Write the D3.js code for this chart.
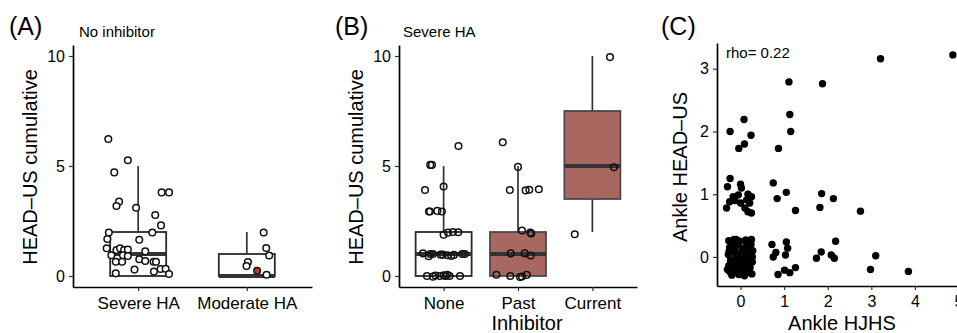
<!DOCTYPE html>
<html>
<head>
<meta charset="utf-8">
<script src="https://cdn.jsdelivr.net/npm/d3@7"></script>
<style>
  body { margin: 0; background: #fff; }
  text { font-family: "Liberation Sans", Arial, sans-serif; fill: #000; }
</style>
</head>
<body>
<svg id="fig" width="957" height="333"></svg>
<script>
// ---------- data ----------
// box stats: [lower whisker, q1, median, q3, upper whisker]
const catsA = ['Severe HA', 'Moderate HA'];
const boxA = [[0, 0, 1, 2, 5], [0, 0, 0, 1, 2]];

const aSevereVals = [6.23, 5.26, 4.71, 3.8, 3.8, 3.38, 3.18, 3.1, 2.77, 2.3, 1.98, 1.98, 1.68, 1.65, 1.26,
  1.18, 1.26, 1.18, 1.2, 1.12, 0.94, 0.94, 0.91, 0.65, 0.65, 0.76, 0.68, 0.65, 0.65, 0.29, 0.32, 0.33, 0.2, 0.12, 0.09];
const aSevereJit = [-0.275, -0.095, -0.22, 0.216, 0.284, -0.176, -0.2, -0.019, 0.157, 0.21, -0.27, 0.13, -0.284, 0.01, -0.29,
  -0.2, -0.167, -0.13, -0.095, 0.065, -0.247, -0.14, -0.095, -0.206, -0.148, 0.01, 0.065, 0.142, 0.164, -0.034, 0.206, 0.253, 0.145, -0.206, 0.284];
const aModVals = [1.98, 1.27, 0.93, 0.63, 0.45, 0.06];
const aModJit = [0.155, 0.179, 0.206, 0.01, -0.003, 0.182];
const aModRedVal = [0.24];
const aModRedJit = [0.095];

const catsB = ['None', 'Past', 'Current'];
const boxB = [[0, 0, 1, 2, 5], [0, 0, 1, 2, 5], [2, 3.5, 5, 7.5, 10]];
const bNoneVals = [5.91, 5.05, 5.05, 3.91, 4.07, 2.93, 2.93, 2.96, 2.93, 1.88, 1.97, 2.0, 1.99, 1.03, 1.0, 1.0, 0.97,
  0.97, 0.94, 0.91, 0.96, 1.0, 1.0, 0.9, 0, -0.03, 0, 0, 0.06, 0, 0, 0.02, 0.03];
const bNoneJit = [0.2, -0.18, -0.157, -0.25, 0, -0.197, -0.183, -0.085, -0.023, 0, 0.058, 0.125, 0.197, -0.278, -0.18, -0.143, -0.04,
  -0.01, 0.054, 0.103, 0.139, 0.25, 0.286, -0.2, -0.224, -0.143, -0.05, 0.027, 0.05, 0.08, 0.22, -0.11, 0.0];
const bPastVals = [6.08, 4.96, 3.91, 3.89, 3.92, 3.94, 2.07, 1.98, 1.93, 1.03, 1.03, 0.93, 0.06, 0, -0.05, -0.02, 0.05];
const bPastJit = [-0.205, 0, -0.11, 0.103, 0.152, 0.28, 0.054, 0.165, 0.179, -0.098, 0.09, 0.17, -0.29, -0.103, 0.027, 0.054, 0.117];
const bCurVals = [9.95, 4.94, 1.9];
const bCurJit = [0.237, 0.29, -0.237];

const yTicksAB = [0, 5, 10];

// panel C (jittered scatter)
const cHJHS = [3.21, 4.87, 1.11, 1.88, 1.13, 1.15, 0.87, -0.24, 0.08, 0.24, 0.09, -0.04,
  -0.24, -0.3, 0, 0.02, -0.17, -0.05, -0.25, -0.13, 0.17, 0.25, 0.14, 0.21, 0.1, 0.17, 0.25, -0.32, 0,
  0.75, 1.05, 0.84, 1.26, 1.86, 1.82, 2.13, 2.75,
  0.72, 0.75, 0.81, 1.05, 1.08, 1.03, 0.86, 1.01, 1.13, 1.26, 1.74, 1.85, 2.08, 2.15, 2.18, 2.98, 3.1, 3.85,
  -0.27, -0.15, -0.02, 0.12, 0.25, -0.25, -0.1, 0.05, 0.19, 0.28, -0.28, -0.18, -0.05, 0.08, 0.22,
  -0.23, -0.12, 0.02, 0.15, 0.27, -0.27, -0.16, -0.03, 0.1, 0.22, -0.24, -0.1, 0.03, 0.16, 0.26,
  -0.2, 0.09, -0.06, 0.21, -0.3, -0.19, 0.14, -0.08, 0.05, -0.13, 0.24, -0.26, 0.18, -0.04, 0.11,
  -0.2, 0.0, 0.27, -0.1, 0.06];
const cHEADUS = [3.16, 3.22, 2.79, 2.76, 2.27, 2.0, 1.73, 2.0, 2.19, 1.94, 1.8, 1.73,
  1.25, 1.12, 1.16, 1.1, 0.96, 0.99, 0.88, 0.9, 1.0, 0.96, 0.91, 0.86, 0.78, 0.72, 0.7, 0.78, 0.86,
  1.18, 1.03, 0.93, 0.74, 1.01, 0.79, 0.93, 0.73,
  0.2, 0.0, 0.07, 0.24, 0.14, 0.03, -0.28, -0.21, -0.25, -0.17, -0.02, 0.08, 0.03, -0.02, 0.25, -0.2, 0.02, -0.23,
  0.26, 0.28, 0.25, 0.27, 0.28, 0.15, 0.18, 0.14, 0.17, 0.1, 0.04, 0.08, 0.05, 0.02, 0.05,
  -0.05, -0.02, -0.06, -0.04, -0.08, -0.14, -0.12, -0.15, -0.13, -0.17, -0.24, -0.22, -0.26, -0.24, -0.27,
  -0.29, -0.3, 0.21, -0.25, -0.2, 0.22, 0.22, -0.08, 0.09, 0.12, 0.2, 0.1, -0.1, -0.28, 0.08,
  -0.18, 0.0, 0.0, 0.28, -0.2];
const xTicksC = [0, 1, 2, 3, 4, 5];
const yTicksC = [0, 1, 2, 3];

// ---------- drawing ----------
const svg = d3.select('#fig');
const white = '#fdfdfb', brown = '#a8675f';

function styleAxis(g) {
  g.select('.domain').attr('stroke', '#000').attr('stroke-width', 1.7);
  g.selectAll('.tick line').attr('stroke', '#333').attr('stroke-width', 1.2);
  g.selectAll('.tick text').style('font-size', '16px').attr('fill', '#000');
}

function boxPanel(o) {
  const x = d3.scalePoint().domain(o.cats).range(o.xr).padding(0.6);
  const step = x.step();
  const y = d3.scaleLinear().domain([-0.5, 10.5]).range([287, 45]);

  const g = svg.append('g');
  o.cats.forEach((c, i) => {
    const [lo, q1, med, q3, hi] = o.stats[i];
    const cx = x(c), w = 56;
    const stroke = o.fills[i] === white ? '#2a2a2a' : '#4a4a4a';
    g.append('line').attr('x1', cx).attr('x2', cx).attr('y1', y(q3)).attr('y2', y(hi))
      .attr('stroke', '#333').attr('stroke-width', 1.7);
    g.append('line').attr('x1', cx).attr('x2', cx).attr('y1', y(lo)).attr('y2', y(q1))
      .attr('stroke', '#333').attr('stroke-width', 1.7);
    g.append('rect').attr('x', cx - w / 2).attr('width', w)
      .attr('y', y(q3)).attr('height', y(q1) - y(q3))
      .attr('fill', o.fills[i]).attr('stroke', stroke).attr('stroke-width', 1.8);
    g.append('line').attr('x1', cx - w / 2).attr('x2', cx + w / 2).attr('y1', y(med)).attr('y2', y(med))
      .attr('stroke', '#333').attr('stroke-width', 3.8);
  });

  o.points.forEach(p => {
    g.selectAll(null).data(p.vals).enter().append('circle')
      .attr('cx', (d, i) => x(p.cat) + p.jit[i] * step)
      .attr('cy', d => y(d))
      .attr('r', 3.3)
      .attr('fill', p.fill)
      .attr('stroke', '#111').attr('stroke-width', 1.5);
  });

  const ya = svg.append('g').attr('transform', `translate(${o.xr[0]},0)`)
    .call(d3.axisLeft(y).tickValues(yTicksAB).tickSize(4).tickSizeOuter(0).tickPadding(4));
  styleAxis(ya);
  const xa = svg.append('g').attr('transform', 'translate(0,287)')
    .call(d3.axisBottom(x).tickSize(4).tickSizeOuter(0).tickPadding(6));
  styleAxis(xa);
  xa.selectAll('.tick text').style('font-size', '17px');
  return {x, y};
}

boxPanel({
  cats: catsA, stats: boxA, xr: [73, 312], fills: [white, white],
  points: [
    {cat: 'Severe HA', vals: aSevereVals, jit: aSevereJit, fill: '#fff'},
    {cat: 'Moderate HA', vals: aModVals, jit: aModJit, fill: '#fff'},
    {cat: 'Moderate HA', vals: aModRedVal, jit: aModRedJit, fill: '#c0392b'}
  ]
});

boxPanel({
  cats: catsB, stats: boxB, xr: [399, 637], fills: [white, brown, brown],
  points: [
    {cat: 'None', vals: bNoneVals, jit: bNoneJit, fill: 'none'},
    {cat: 'Past', vals: bPastVals, jit: bPastJit, fill: 'none'},
    {cat: 'Current', vals: bCurVals, jit: bCurJit, fill: 'none'}
  ]
});

// panel C
const xc = d3.scaleLinear().domain([-0.54, 5.4]).range([717, 976]);
const yc = d3.scaleLinear().domain([-0.463, 3.41]).range([286, 43]);
svg.append('g').selectAll('circle').data(cHJHS).enter().append('circle')
  .attr('cx', d => xc(d))
  .attr('cy', (d, i) => yc(cHEADUS[i]))
  .attr('r', 3.7).attr('fill', '#000');
const cya = svg.append('g').attr('transform', 'translate(717,0)')
  .call(d3.axisLeft(yc).tickValues(yTicksC).tickFormat(d3.format('d'))
    .tickSize(4).tickSizeOuter(0).tickPadding(4));
styleAxis(cya);
const cxa = svg.append('g').attr('transform', 'translate(0,286)')
  .call(d3.axisBottom(xc).tickValues(xTicksC).tickFormat(d3.format('d'))
    .tickSize(4).tickSizeOuter(0).tickPadding(6));
styleAxis(cxa);

// texts
function txt(x, y, s, size, anchor, rot) {
  const t = svg.append('text').attr('font-size', size).attr('text-anchor', anchor || 'start').text(s);
  if (rot) t.attr('transform', `translate(${x},${y}) rotate(-90)`);
  else t.attr('x', x).attr('y', y);
  return t;
}
txt(9, 35, '(A)', 25);
txt(335, 35, '(B)', 25);
txt(661, 35, '(C)', 25);
txt(79, 37, 'No inhibitor', 15);
txt(403, 37, 'Severe HA', 15);
txt(726, 58, 'rho= 0.22', 15);
txt(37, 167, 'HEAD–US cumulative', 20, 'middle', true);
txt(363, 167, 'HEAD–US cumulative', 20, 'middle', true);
txt(687, 167, 'Ankle HEAD–US', 20, 'middle', true);
txt(527, 330, 'Inhibitor', 20, 'middle');
txt(842, 330, 'Ankle HJHS', 20, 'middle');
</script>
</body>
</html>
